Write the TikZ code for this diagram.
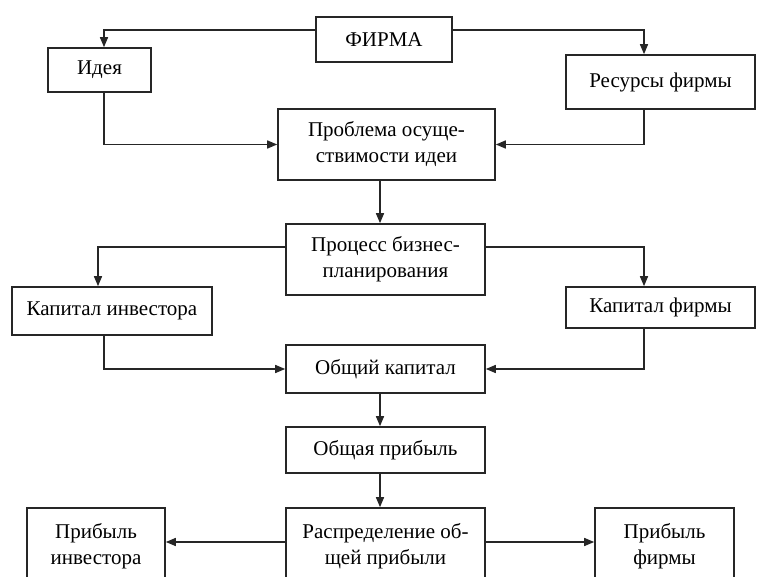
\documentclass[tikz,border=0pt]{standalone}
\usepackage{fontspec}
\setmainfont{Liberation Serif}
\usetikzlibrary{arrows.meta}
\begin{document}
\begin{tikzpicture}[x=1pt,y=-1pt,
  box/.style={draw=black!85,line width=1.6pt,fill=white,inner sep=0pt,align=center,
    font=\fontsize{21}{26}\selectfont,anchor=center},
  arr/.style={draw=black!85,line width=1.5pt,-{Triangle[length=10pt,width=8pt]}}]
\useasboundingbox (0,0) rectangle (758,577);
\clip (0,0) rectangle (758,577);
\fill[white] (0,0) rectangle (758,577);
\coordinate (ax) at (380,0);
\node[box,minimum width=136pt,minimum height=45pt] (firma) at (384,39.5) {ФИРМА};
\node[box,minimum width=103pt,minimum height=44pt] (ideya) at (99.5,70) {Идея};
\node[box,minimum width=189pt,minimum height=54pt] (resursy) at (660.5,82) {Ресурсы фирмы};
\node[box,minimum width=217pt,minimum height=71pt] (problema) at (386.5,144.5) {Проблема осуще-\\ствимости идеи};
\node[box,minimum width=199pt,minimum height=71pt] (process) at (385.5,259.5) {Процесс бизнес-\\планирования};
\node[box,minimum width=200pt,minimum height=48pt] (kinv) at (112,311) {Капитал инвестора};
\node[box,minimum width=189pt,minimum height=41pt] (kfirm) at (660.5,307.5) {Капитал фирмы};
\node[box,minimum width=199pt,minimum height=48pt] (obshkap) at (385.5,369) {Общий капитал};
\node[box,minimum width=199pt,minimum height=46pt] (obshprib) at (385.5,450) {Общая прибыль};
\node[box,minimum width=199pt,minimum height=76pt] (raspr) at (385.5,546) {Распределение об-\\щей прибыли};
\node[box,minimum width=138pt,minimum height=76pt] (pinv) at (96,546) {Прибыль\\инвестора};
\node[box,minimum width=139pt,minimum height=76pt] (pfirm) at (664.5,546) {Прибыль\\фирмы};
% connectors
\draw[arr] ([yshift=9.5pt]firma.west) -| ([xshift=4.5pt]ideya.north);
\draw[arr] ([yshift=9.5pt]firma.east) -| ([xshift=-16.5pt]resursy.north);
\draw[arr] ([xshift=4.5pt]ideya.south) |- (problema.west);
\draw[arr] ([xshift=-16.5pt]resursy.south) |- (problema.east);
\draw[arr] (problema.south -| ax) -- (process.north -| ax);
\draw[arr] ([yshift=12.5pt]process.west) -| ([xshift=-14pt]kinv.north);
\draw[arr] ([yshift=12.5pt]process.east) -| ([xshift=-16.5pt]kfirm.north);
\draw[arr] ([xshift=-8pt]kinv.south) |- (obshkap.west);
\draw[arr] ([xshift=-16.5pt]kfirm.south) |- (obshkap.east);
\draw[arr] (obshkap.south -| ax) -- (obshprib.north -| ax);
\draw[arr] (obshprib.south -| ax) -- (raspr.north -| ax);
\draw[arr] ([yshift=4pt]raspr.west) -- ([yshift=4pt]pinv.east);
\draw[arr] ([yshift=4pt]raspr.east) -- ([yshift=4pt]pfirm.west);
\end{tikzpicture}
\end{document}
